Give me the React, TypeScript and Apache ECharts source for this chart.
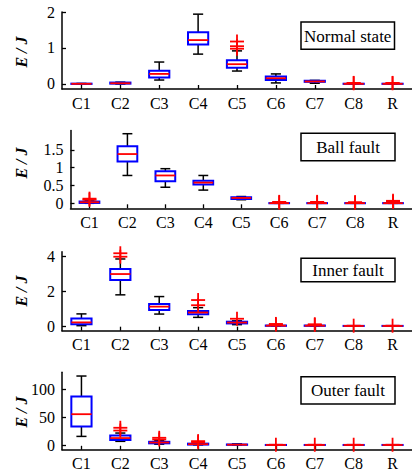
import React, { useEffect, useRef } from "react";
import * as echarts from "echarts";

const categories = ["C1", "C2", "C3", "C4", "C5", "C6", "C7", "C8", "R"];
const panelTitles = ["Normal state", "Ball fault", "Inner fault", "Outer fault"];
const yAxisName = "E / J";

// box stats per category: [min, q1, median, q3, max]
const normalBoxes = [
  [0, 0.002, 0.005, 0.01, 0.015],
  [0, 0.01, 0.02, 0.04, 0.05],
  [0.11, 0.18, 0.28, 0.37, 0.61],
  [0.83, 1.1, 1.22, 1.44, 1.94],
  [0.36, 0.45, 0.55, 0.66, 0.92],
  [0.03, 0.11, 0.16, 0.21, 0.28],
  [0.02, 0.06, 0.07, 0.09, 0.1],
  [0, 0.003, 0.005, 0.008, 0.012],
  [0, 0.003, 0.005, 0.008, 0.012],
];
// outliers: [category index, value]
const normalOutliers = [
  [4, 0.98], [4, 1.05], [4, 1.18],
  [7, 0.02], [7, 0.03],
  [8, 0.02], [8, 0.03],
];

const ballBoxes = [
  [0, 0.01, 0.03, 0.05, 0.07],
  [0.78, 1.17, 1.38, 1.6, 1.95],
  [0.45, 0.62, 0.78, 0.9, 0.97],
  [0.37, 0.53, 0.58, 0.63, 0.78],
  [0.1, 0.12, 0.15, 0.17, 0.19],
  [0, 0.002, 0.004, 0.006, 0.01],
  [0, 0.002, 0.004, 0.006, 0.01],
  [0, 0.002, 0.004, 0.006, 0.01],
  [0, 0.002, 0.004, 0.006, 0.01],
];
const ballOutliers = [
  [0, 0.1], [0, 0.13],
  [5, 0.02], [5, 0.04],
  [6, 0.02], [6, 0.04],
  [7, 0.02], [7, 0.03],
  [8, 0.04], [8, 0.07],
];

const innerBoxes = [
  [0.02, 0.1, 0.21, 0.44, 0.7],
  [1.8, 2.66, 3.0, 3.29, 3.87],
  [0.69, 0.92, 1.12, 1.27, 1.7],
  [0.5, 0.68, 0.78, 0.87, 1.06],
  [0.08, 0.15, 0.2, 0.25, 0.3],
  [0, 0.01, 0.02, 0.03, 0.05],
  [0, 0.01, 0.02, 0.03, 0.05],
  [0, 0.003, 0.005, 0.008, 0.012],
  [0, 0.003, 0.005, 0.008, 0.012],
];
const innerOutliers = [
  [1, 4.0], [1, 4.2],
  [3, 1.2], [3, 1.5],
  [4, 0.42],
  [5, 0.08], [5, 0.12],
  [6, 0.07], [6, 0.1],
  [7, 0.02],
  [8, 0.02],
];

const outerBoxes = [
  [15.5, 33.4, 55.4, 87, 124],
  [6.6, 9, 12.5, 17.3, 21.5],
  [1.5, 3, 4.5, 5.8, 8],
  [0.3, 0.8, 1.5, 2.5, 4],
  [0, 0.3, 0.6, 1, 2],
  [0, 0.05, 0.1, 0.15, 0.3],
  [0, 0.05, 0.1, 0.15, 0.3],
  [0, 0.05, 0.1, 0.15, 0.3],
  [0, 0.05, 0.1, 0.15, 0.3],
];
const outerOutliers = [
  [1, 26], [1, 31],
  [2, 10], [2, 13],
  [3, 5], [3, 7],
  [5, 0.5], [6, 0.5], [7, 0.5], [8, 0.5],
];

const yTicksNormal = [0, 1, 2];
const yTicksBall = [0, 0.5, 1, 1.5];
const yTicksInner = [0, 2, 4];
const yTicksOuter = [0, 50, 100];

const yRangeNormal = [-0.139, 2.0];
const yRangeBall = [-0.14, 2.04];
const yRangeInner = [-0.27, 4.29];
const yRangeOuter = [-8.6, 130.7];

const FONT = '"Liberation Serif", "Times New Roman", serif';

const panels = [
  { boxes: normalBoxes, outliers: normalOutliers, ticks: yTicksNormal, range: yRangeNormal,
    grid: { left: 62, top: 12, width: 355.5, height: 77 }, nameY: 52,
    box: { x: 301, y: 22, w: 93.5, h: 27.3 } },
  { boxes: ballBoxes, outliers: ballOutliers, ticks: yTicksBall, range: yRangeBall,
    grid: { left: 70.5, top: 130.5, width: 349.2, height: 77.8 }, nameY: 163,
    box: { x: 301, y: 133.3, w: 94, h: 27.4 } },
  { boxes: innerBoxes, outliers: innerOutliers, ticks: yTicksInner, range: yRangeInner,
    grid: { left: 62, top: 251.7, width: 355.5, height: 79 }, nameY: 291,
    box: { x: 301, y: 258.3, w: 94, h: 23.4 } },
  { boxes: outerBoxes, outliers: outerOutliers, ticks: yTicksOuter, range: yRangeOuter,
    grid: { left: 62, top: 372.3, width: 355.5, height: 77.5 }, nameY: 412,
    box: { x: 301, y: 376.7, w: 94, h: 27.3 } },
];

function renderBox(params: any, api: any) {
  const idx = api.value(0);
  const vals = [api.value(1), api.value(2), api.value(3), api.value(4), api.value(5)];
  const x = api.coord([idx, 0])[0];
  const band = api.size([1, 0])[0];
  const bw = band * 0.52;
  const cw = bw * 0.5;
  const [yMin, yQ1, yMed, yQ3, yMax] = vals.map((v) => api.coord([idx, v])[1]);
  const black = { stroke: "#000", lineWidth: 1.5 };
  return {
    type: "group",
    children: [
      { type: "line", shape: { x1: x, y1: yQ3, x2: x, y2: yMax }, style: black },
      { type: "line", shape: { x1: x, y1: yQ1, x2: x, y2: yMin }, style: black },
      { type: "line", shape: { x1: x - cw / 2, y1: yMax, x2: x + cw / 2, y2: yMax }, style: black },
      { type: "line", shape: { x1: x - cw / 2, y1: yMin, x2: x + cw / 2, y2: yMin }, style: black },
      {
        type: "polygon",
        shape: { points: [[x - bw / 2, yQ3], [x + bw / 2, yQ3], [x + bw / 2, yQ1], [x - bw / 2, yQ1]] },
        style: { fill: "none", stroke: "#0000ff", lineWidth: 2 },
      },
      { type: "line", shape: { x1: x - bw / 2, y1: yMed, x2: x + bw / 2, y2: yMed }, style: { stroke: "#ff0000", lineWidth: 1.8 } },
    ],
  };
}

function renderPlus(params: any, api: any) {
  const p = api.coord([api.value(0), api.value(1)]);
  const s = 7;
  const st = { stroke: "#ff0000", lineWidth: 1.8 };
  return {
    type: "group",
    children: [
      { type: "line", shape: { x1: p[0] - s, y1: p[1], x2: p[0] + s, y2: p[1] }, style: st },
      { type: "line", shape: { x1: p[0], y1: p[1] - s, x2: p[0], y2: p[1] + s }, style: st },
    ],
  };
}

export default function App() {
  const ref = useRef<HTMLDivElement>(null);
  useEffect(() => {
    if (!ref.current) return;
    const chart = echarts.init(ref.current, undefined, { renderer: "svg" });
    const grids: any[] = [];
    const xAxes: any[] = [];
    const yAxes: any[] = [];
    const series: any[] = [];
    const graphics: any[] = [];
    panels.forEach((p, i) => {
      grids.push({ ...p.grid, containLabel: false });
      xAxes.push({
        type: "category",
        gridIndex: i,
        data: categories,
        boundaryGap: true,
        axisLine: { show: true, onZero: false, lineStyle: { color: "#000", width: 1.5 } },
        axisTick: { show: true, alignWithLabel: true, inside: true, length: 4, lineStyle: { color: "#000", width: 1.3 } },
        axisLabel: { color: "#000", fontFamily: FONT, fontSize: 16, margin: 6, interval: 0 },
        splitLine: { show: false },
      });
      yAxes.push({
        type: "value",
        gridIndex: i,
        min: p.range[0],
        max: p.range[1],
        axisLine: { show: true, lineStyle: { color: "#000", width: 1.5 } },
        axisTick: { show: true, inside: true, length: 4, customValues: p.ticks, lineStyle: { color: "#000", width: 1.3 } },
        axisLabel: { color: "#000", fontFamily: FONT, fontSize: 16, margin: 7, customValues: p.ticks },
        splitLine: { show: false },
      });
      series.push({
        type: "custom",
        xAxisIndex: i,
        yAxisIndex: i,
        renderItem: renderBox,
        encode: { x: 0, y: [1, 2, 3, 4, 5] },
        data: p.boxes.map((b, k) => [k, ...b]),
        z: 2,
      });
      series.push({
        type: "custom",
        xAxisIndex: i,
        yAxisIndex: i,
        renderItem: renderPlus,
        encode: { x: 0, y: 1 },
        data: p.outliers,
        z: 3,
      });
      graphics.push({
        type: "text",
        x: 21,
        y: p.nameY,
        rotation: Math.PI / 2,
        style: {
          text: yAxisName,
          font: `italic bold 16px ${FONT}`,
          fill: "#000",
          align: "center",
          verticalAlign: "middle",
        },
      });
      graphics.push({
        type: "rect",
        shape: { x: p.box.x, y: p.box.y, width: p.box.w, height: p.box.h },
        style: { fill: "#fff", stroke: "#000", lineWidth: 1.5 },
        z: 10,
      });
      graphics.push({
        type: "text",
        x: p.box.x + p.box.w / 2,
        y: p.box.y + p.box.h / 2 + 0.5,
        style: {
          text: panelTitles[i],
          font: `17px ${FONT}`,
          fill: "#000",
          align: "center",
          verticalAlign: "middle",
        },
        z: 11,
      });
    });
    chart.setOption({
      animation: false,
      backgroundColor: "#fff",
      grid: grids,
      xAxis: xAxes,
      yAxis: yAxes,
      series,
      graphic: { elements: graphics },
    });
    return () => chart.dispose();
  }, []);
  return (
    <div
      ref={ref}
      style={{ position: "fixed", left: 0, top: 0, width: 412, height: 474, background: "#fff" }}
    />
  );
}
